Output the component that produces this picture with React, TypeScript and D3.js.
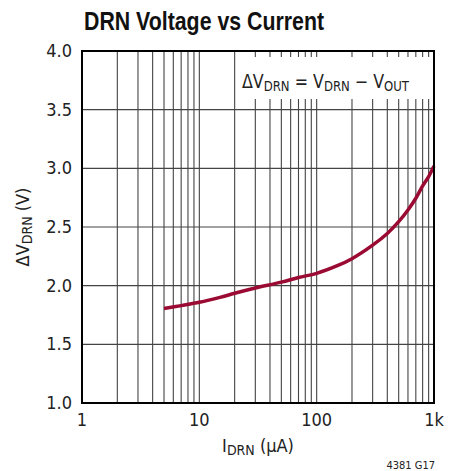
import React, { useEffect } from "react";
import * as d3 from "d3";

const currentUA = [5, 7, 10, 15, 20, 30, 50, 70, 100, 150, 200, 300, 400, 500, 600, 700, 800, 900, 1000];
const deltaV = [1.805, 1.83, 1.858, 1.9, 1.935, 1.98, 2.03, 2.07, 2.105, 2.17, 2.23, 2.345, 2.445, 2.545, 2.645, 2.745, 2.85, 2.93, 3.02];
const yTicks = [1.0, 1.5, 2.0, 2.5, 3.0, 3.5, 4.0];
const xTickValues = [1, 10, 100, 1000];
const xTickLabels = ["1", "10", "100", "1k"];

const W = 452;
const H = 471;
const M = { left: 82, right: 434, top: 51, bottom: 403 };
const FONT = "'DejaVu Sans Condensed', 'Liberation Sans Narrow', sans-serif";
const TITLE_FONT = "'Liberation Sans', Arial, sans-serif";

export default function App() {
  useEffect(() => {
    document.body.style.margin = "0";
  }, []);

  const x = d3.scaleLog().domain([1, 1000]).range([M.left, M.right]);
  const y = d3.scaleLinear().domain([1, 4]).range([M.bottom, M.top]);

  const minor: number[] = [];
  for (const dec of [1, 10, 100]) {
    for (let k = 2; k <= 9; k++) minor.push(dec * k);
  }
  minor.push(10, 100);

  const line = d3
    .line<number>()
    .x((_, i) => x(currentUA[i]))
    .y((d) => y(d))
    .curve(d3.curveCatmullRom.alpha(0.5));

  return (
    <svg width={W} height={H} style={{ display: "block", background: "#fff" }} fontFamily={FONT}>
      <text x={84} y={30} fontSize={25} fontWeight="bold" fill="#111" fontFamily={TITLE_FONT} textLength={240} lengthAdjust="spacingAndGlyphs">
        DRN Voltage vs Current
      </text>

      {/* vertical grid */}
      {minor.map((v, i) => (
        <line key={"v" + i} x1={x(v)} x2={x(v)} y1={M.top} y2={M.bottom} stroke="#444" strokeWidth={1.1} />
      ))}
      {/* horizontal grid */}
      {yTicks.slice(1, -1).map((v) => (
        <line key={"h" + v} x1={M.left} x2={M.right} y1={y(v)} y2={y(v)} stroke="#444" strokeWidth={1.1} />
      ))}

      {/* annotation box */}
      <rect x={237} y={57} width={195} height={42} fill="#fff" />
      <text transform="translate(242,88) scale(0.93,1)" fontSize={19} fill="#222">
        ΔV<tspan fontSize={14} dy={3}>DRN</tspan>
        <tspan dy={-3}> = V</tspan>
        <tspan fontSize={14} dy={3}>DRN</tspan>
        <tspan dy={-3}> − V</tspan>
        <tspan fontSize={14} dy={3}>OUT</tspan>
      </text>

      {/* curve */}
      <path d={line(deltaV) || ""} fill="none" stroke="#9a0a32" strokeWidth={3.5} strokeLinecap="butt" />

      {/* border */}
      <rect x={M.left} y={M.top} width={M.right - M.left} height={M.bottom - M.top} fill="none" stroke="#000" strokeWidth={2} />

      {/* y tick labels */}
      {yTicks.map((v) => (
        <text key={"yt" + v} x={72} y={y(v) + 6} fontSize={18} textAnchor="end" fill="#222">
          {v.toFixed(1)}
        </text>
      ))}
      {/* x tick labels */}
      {xTickValues.map((v, i) => (
        <text key={"xt" + v} x={x(v)} y={426} fontSize={18} textAnchor="middle" fill="#222">
          {xTickLabels[i]}
        </text>
      ))}

      {/* axis titles */}
      <text transform="translate(29,227) rotate(-90)" fontSize={18} textAnchor="middle" fill="#222">
        ΔV<tspan fontSize={14} dy={3}>DRN</tspan>
        <tspan dy={-3}> (V)</tspan>
      </text>
      <text x={258} y={452} fontSize={18} textAnchor="middle" fill="#222">
        I<tspan fontSize={14} dy={3}>DRN</tspan>
        <tspan dy={-3}> (µA)</tspan>
      </text>
      <text x={435} y={469} fontSize={11} textAnchor="end" fill="#222">
        4381 G17
      </text>
    </svg>
  );
}
